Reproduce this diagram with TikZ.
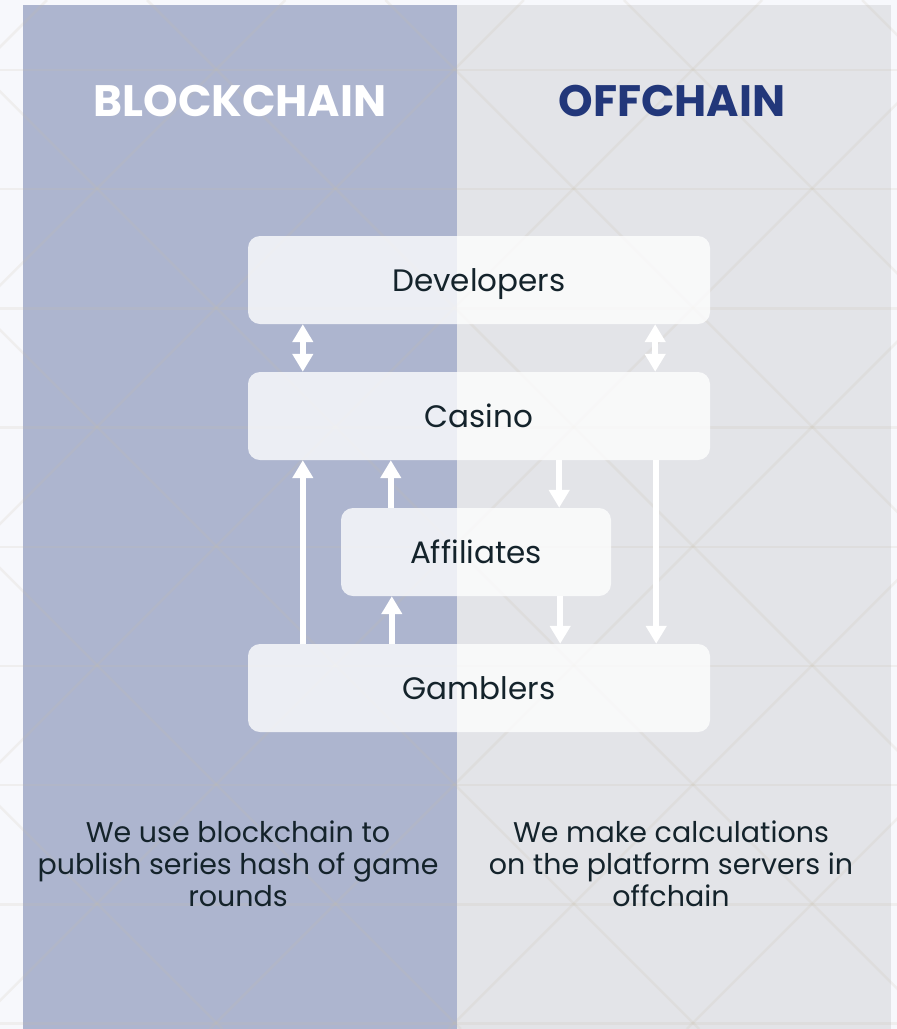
\documentclass[tikz,border=0pt]{standalone}
\usepackage{fontspec}
\setmainfont{Poppins}
\usetikzlibrary{arrows.meta}
\definecolor{pagebg}{HTML}{F7F8FC}
\definecolor{chainblue}{HTML}{ADB5CF}
\definecolor{offgrey}{HTML}{E3E4E8}
\definecolor{titlenavy}{HTML}{22377A}
\definecolor{textdark}{HTML}{14232B}
\definecolor{linebeige}{HTML}{C8BEA8}
\tikzset{
  box/.style={rounded corners=12pt,fill=white,fill opacity=0.78,text opacity=1,
    text=textdark,minimum height=88pt,inner sep=0pt,text height=26pt,text depth=4pt,
    font=\fontsize{31}{36}\selectfont},
  flow/.style={white,line width=6pt,-{Triangle[width=20pt,length=18pt]}},
  twoway/.style={white,line width=6pt,
    {Triangle[width=20pt,length=18pt]}-{Triangle[width=20pt,length=18pt]}},
  gridline/.style={draw=linebeige,line width=2.5pt,draw opacity=0.16},
  heading/.style={font=\fontsize{44}{44}\selectfont\bfseries},
  note/.style={text=textdark,align=center,font=\fontsize{28.5}{32}\selectfont}
}
\begin{document}
\begin{tikzpicture}[x=1pt,y=-1pt]
  \useasboundingbox (0,0) rectangle (897,1029);
  % backgrounds
  \fill[pagebg] (0,0) rectangle (897,1029);
  \fill[chainblue] (23,5) rectangle (457,1029);
  \fill[offgrey] (457,5) rectangle (891,1029);
  % faint lattice
  \begin{scope}
    \clip (0,0) rectangle (897,1029);
    \foreach \k in {-1,...,8}{
      \draw[gridline] ({47+238.4*\k},0) -- ++(-1029,1029);
    }
    \foreach \k in {-5,...,4}{
      \draw[gridline] ({147+238.4*\k},0) -- ++(1029,1029);
    }
    \foreach \k in {0,...,8}{
      \draw[gridline] (0,{70+119.2*\k}) -- ++(897,0);
    }
  \end{scope}
  % titles
  \node[heading,text=white] (bctitle) at (240,101) {BLOCKCHAIN};
  \node[heading,text=titlenavy] (octitle) at (672,101) {OFFCHAIN};
  % boxes
  \node[box,minimum width=462pt] (dev) at (479,280) {Developers};
  \node[box,minimum width=462pt] (cas) at (479,416) {Casino};
  \node[box,minimum width=270pt] (aff) at (476,552) {Affiliates};
  \node[box,minimum width=462pt] (gam) at (479,688) {Gamblers};
  % connectors
  \draw[twoway] ([xshift=55pt]dev.south west) -- ([xshift=55pt]cas.north west);
  \draw[twoway] ([xshift=-55pt]dev.south east) -- ([xshift=-55pt]cas.north east);
  \draw[flow] ([xshift=55pt]gam.north west) -- ([xshift=55pt]cas.south west);
  \draw[flow] ([xshift=50pt]aff.north west) -- ([xshift=50pt]aff.north west |- cas.south);
  \draw[flow] ([xshift=51pt]aff.south west |- gam.north) -- ([xshift=51pt]aff.south west);
  \draw[flow] ([xshift=-52pt]aff.north east |- cas.south) -- ([xshift=-52pt]aff.north east);
  \draw[flow] ([xshift=-51pt]aff.south east) -- ([xshift=-51pt]aff.south east |- gam.north);
  \draw[flow] ([xshift=-54pt]cas.south east) -- ([xshift=-54pt]gam.north east);
  % notes
  \node[note] (bcnote) at (238,864) {We use blockchain to\\publish series hash of game\\rounds};
  \node[note] (ocnote) at (671,864) {We make calculations\\on the platform servers in\\offchain};
\end{tikzpicture}
\end{document}
